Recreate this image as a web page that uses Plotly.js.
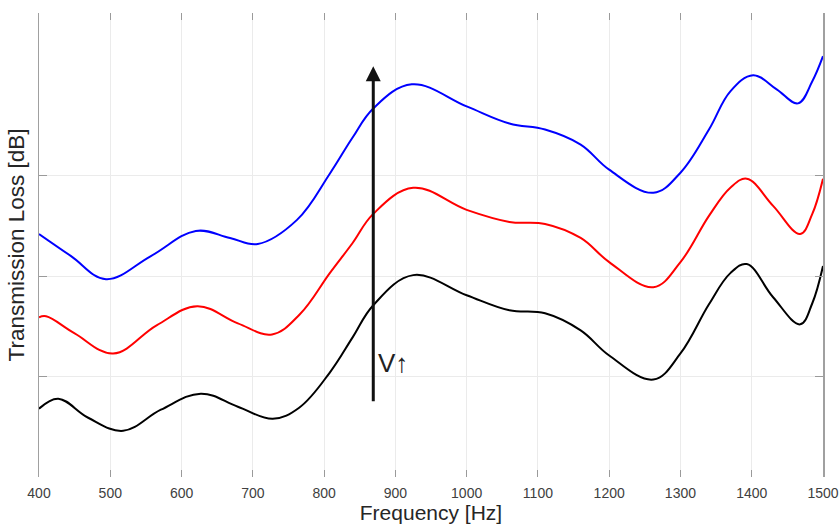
<!DOCTYPE html>
<html>
<head>
<meta charset="utf-8">
<script src="https://cdn.plot.ly/plotly-3.0.1.min.js"></script>
<style>html,body{margin:0;padding:0;background:#fff;}#chart{width:840px;height:528px;}</style>
</head>
<body>
<div id="chart"></div>
<script>
// Frequencies [Hz] and Transmission Loss [dB]
const freqBlue = [400, 445, 494, 557, 620, 668, 707, 762, 808, 840, 869, 923, 1000, 1060, 1110, 1160, 1200, 1262, 1300, 1340, 1370, 1402, 1435, 1465, 1485, 1500];
const tlBlue   = [34.2, 32.0, 29.7, 32.0, 34.5, 33.8, 33.2, 35.6, 40.2, 43.8, 46.7, 49.1, 46.9, 45.2, 44.6, 43.1, 40.6, 38.3, 40.3, 44.6, 48.4, 50.0, 48.6, 47.2, 49.4, 51.9];

const freqRed = [400, 410, 450, 504, 565, 622, 679, 727, 766, 808, 840, 869, 925, 1000, 1060, 1110, 1160, 1200, 1262, 1300, 1340, 1370, 1393, 1430, 1468, 1485, 1500];
const tlRed   = [25.9, 26.0, 24.3, 22.3, 25.1, 27.0, 25.3, 24.2, 26.2, 30.3, 33.3, 36.2, 38.8, 36.6, 35.4, 35.2, 33.8, 31.4, 28.9, 31.4, 36.0, 38.8, 39.7, 37.0, 34.2, 36.2, 39.7];

const freqBlack = [400, 427, 469, 518, 571, 627, 679, 728, 765, 808, 840, 869, 925, 1000, 1060, 1110, 1160, 1200, 1262, 1300, 1340, 1370, 1393, 1430, 1468, 1485, 1500];
const tlBlack   = [16.8, 17.8, 15.9, 14.6, 16.7, 18.3, 17.0, 15.8, 16.9, 20.4, 23.9, 27.1, 30.1, 28.1, 26.6, 26.3, 24.6, 22.1, 19.7, 22.3, 27.2, 30.3, 31.2, 27.9, 25.2, 27.3, 31.0];

const xTicks = [400, 500, 600, 700, 800, 900, 1000, 1100, 1200, 1300, 1400, 1500];
const yTicks = [20, 30, 40];

// Annotation anchors (velocity arrow and label)
const arrowX = 869, arrowTipY = 50.9, arrowTailY = 17.4;
const labelX = 897, labelY = 21.4;

const FONT = 'Liberation Sans, Arial, Helvetica, sans-serif';

const lineStyle = (c) => ({color: c, width: 2, shape: 'spline', smoothing: 1.1});
const traces = [
  {x: freqBlack, y: tlBlack, mode: 'lines', line: lineStyle('#000000'), hoverinfo: 'x+y', showlegend: false},
  {x: freqRed,   y: tlRed,   mode: 'lines', line: lineStyle('#ff0000'), hoverinfo: 'x+y', showlegend: false},
  {x: freqBlue,  y: tlBlue,  mode: 'lines', line: lineStyle('#0000ff'), hoverinfo: 'x+y', showlegend: false}
];

const layout = {
  width: 840, height: 528,
  margin: {l: 39, r: 17, t: 13, b: 51},
  paper_bgcolor: '#ffffff', plot_bgcolor: '#ffffff',
  font: {family: FONT, color: '#333333'},
  showlegend: false,
  xaxis: {
    range: [400, 1500],
    tickvals: xTicks, ticktext: xTicks.map(String),
    ticks: 'inside', ticklen: 7, tickcolor: '#9a9a9a', tickwidth: 1,
    mirror: 'ticks',
    showline: false, zeroline: false,
    showgrid: true, gridcolor: '#ebebeb', gridwidth: 1,
    tickfont: {family: FONT, size: 14, color: '#404040'},
    ticklabelstandoff: 6,
    title: {text: 'Frequency [Hz]', font: {family: FONT, size: 21, color: '#262626'}, standoff: 4},
    automargin: false
  },
  yaxis: {
    range: [10, 56.2],
    tickvals: yTicks, showticklabels: false,
    ticks: 'inside', ticklen: 8, tickcolor: '#9a9a9a', tickwidth: 1,
    mirror: 'ticks',
    showline: true, linecolor: '#a0a0a0', linewidth: 1.5,
    zeroline: false,
    showgrid: true, gridcolor: '#ebebeb', gridwidth: 1,
    title: {text: 'Transmission Loss [dB]', font: {family: FONT, size: 22.5, color: '#262626'}, standoff: 6},
    automargin: false
  },
  annotations: [
    {x: arrowX, y: arrowTipY, ax: arrowX, ay: arrowTailY, xref: 'x', yref: 'y', axref: 'x', ayref: 'y',
     showarrow: true, arrowhead: 2, arrowsize: 1, arrowwidth: 3, arrowcolor: '#111111', text: '', standoff: 0},
    {x: labelX, y: labelY, xref: 'x', yref: 'y', text: 'V↑', showarrow: false,
     font: {family: FONT, size: 26, color: '#222222'}, xanchor: 'center', yanchor: 'middle'}
  ]
};

Plotly.newPlot('chart', traces, layout, {staticPlot: true, displayModeBar: false});
</script>
</body>
</html>
